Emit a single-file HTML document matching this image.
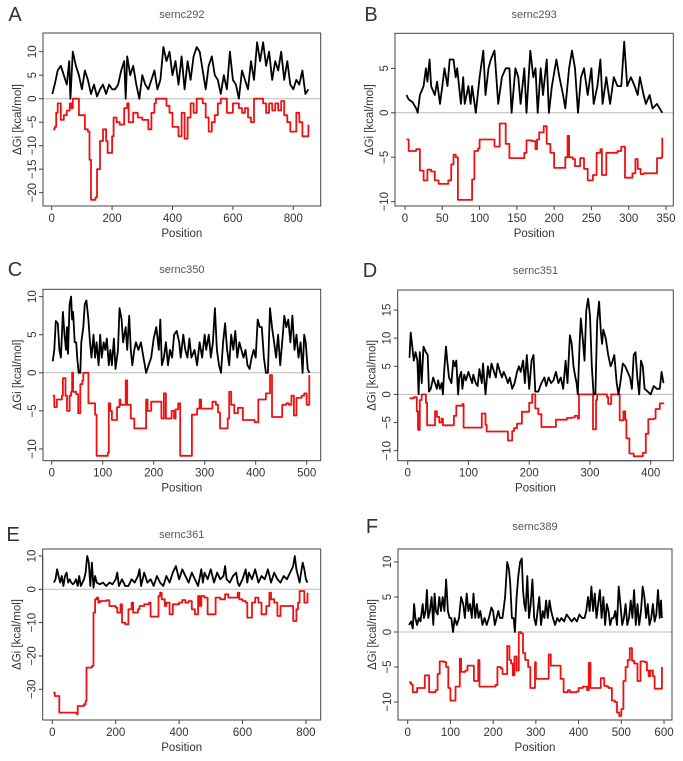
<!DOCTYPE html>
<html><head><meta charset="utf-8"><style>
html,body{margin:0;padding:0;background:#fff;}
svg{display:block;font-family:"Liberation Sans",Arial,sans-serif;}
</style></head><body>
<svg id="fig" width="683" height="761" viewBox="0 0 683 761"></svg>
<script>
// ---- Panel A data ----
const aBlackX=[2,10,20,30,40,50,58,62,70,80,90,100,110,120,130,140,150,160,170,180,190,200,210,220,230,240,245,250,260,270,280,290,300,310,320,330,340,350,360,370,380,390,400,410,420,430,440,450,460,470,480,490,500,510,520,530,540,550,560,570,580,590,600,610,620,630,640,650,660,670,680,690,700,710,720,730,740,750,760,770,780,790,800,810,820,830,840,850];
const aBlackY=[1,3,6,7,5,3,8,0,10,7,5,2,6,4,1,3,0.5,2,3,1,3,2,2,3,6,8,0,9,5,7,3,0,5,3,2,4,6,2,4,11,8,10,5,8,3,9,2,8,4,9,11,10,6,2,7,9,5,4,1,5,2,10,4,3,0,6,4,2,8,4,12,8,12,7,10,4,8,6,10,4,8,3,2,4,3,6,1,2];
const aRedX=[5,10,15,20,25,30,40,50,60,65,70,85,90,110,120,125,130,145,150,160,170,180,185,200,205,215,225,240,250,255,270,285,300,320,330,340,345,380,390,400,420,430,440,450,460,470,480,500,510,520,530,540,550,560,580,600,620,630,640,650,660,670,690,700,710,720,730,740,750,760,770,780,790,800,810,820,830,840,850];
const aRedY=[-6.5,-6,-3,-1,-1,-4.5,-3.5,-2.5,-1,-2,0,0,-3.5,-6.5,-7,-13,-21.5,-21,-15,-9,-6.5,-9,-11.5,-8,-4,-5,-5.5,-2,-1,-5,-3,-4,-4.5,-6.5,-3,-1,0,-1.5,-3,-6,-8,-3,-8.5,-4,-1,-3,0,-1,-4,-7,-5,-3.5,-1,0,-3,-1,-2,-3,-2,-4,-5,0,0,-1,-3,-1,-2.5,-1,-2.5,-0.5,-3.5,-5,-7,-7,-3,-5,-8,-8,-5.5];
// ---- Panel B data ----
const bBlackX=[2,5,10,15,17,20,25,28,30,33,35,40,43,47,50,53,57,60,65,68,70,75,78,80,85,88,90,95,100,105,108,112,115,120,125,130,135,140,143,148,152,155,160,163,168,172,175,178,182,185,190,193,197,203,207,212,215,220,224,228,232,236,240,245,250,253,258,262,265,270,275,280,285,290,294,298,303,308,312,315,320,323,328,332,338,345];
const bBlackY=[2,1.5,1.2,0.5,0,2,3,5,3.5,6,3,2,3.5,1,3,5,3,6,6,4,5,1,4,1,3,1,3,0,4,7,2,5,6,7,1,4,5,5,0,5,4,1,5,0,7,4,5,0,5,2,6,0,3,6,4,2,0.5,5,7,5,0,4,5,2,5,1,3,6,1,4,1,4,3,3,8,3,4,3,2,4,2,1,2,0.5,1,0];
const bRedX=[2,5,15,20,25,30,35,40,45,58,62,65,68,71,90,93,98,100,120,127,135,140,160,163,170,175,177,180,186,190,195,200,215,218,220,225,228,235,240,245,252,257,262,264,270,285,290,295,305,309,312,316,320,338,344,345];
const bRedY=[-3,-4.3,-4.1,-6.5,-7.6,-6.4,-6.6,-7.6,-8,-7.6,-5.8,-4.7,-5,-9.8,-7.5,-4.3,-4,-3,-3.8,-1.2,-3.5,-5.1,-4.5,-3.1,-3.2,-4.1,-3,-2.2,-1.5,-3.5,-4.5,-6.2,-5,-2.6,-5,-5.2,-6,-5.1,-6.3,-7.6,-7,-4.5,-4.1,-7,-4.5,-4.3,-3.8,-7.3,-6.8,-5.2,-6.3,-6.9,-6.8,-5.1,-5,-2.8];
// ---- Panel C data ----
const cBlackX=[2,5,8,12,15,18,22,25,28,30,32,35,38,40,42,45,48,50,53,56,58,62,65,68,72,75,78,82,85,88,92,95,98,102,105,108,112,115,118,122,125,130,133,137,140,145,148,152,155,158,162,165,170,175,180,185,190,195,200,205,210,213,216,220,224,228,232,236,240,245,250,253,258,262,266,270,274,280,285,290,295,300,303,308,312,316,320,324,328,332,336,340,344,348,352,356,360,364,368,372,376,380,384,388,392,396,400,404,408,412,416,420,424,428,432,436,440,444,448,452,456,460,464,468,472,476,480,484,488,492,495,498,502,505];
const cBlackY=[1.5,3,6.8,6.5,3,2,8,5,3,6,2.5,9,10,7,8,4,4,2,0,0,4,6,9,9.5,7,4,2,5,2,4,1,5,2,4,3,4.5,1,3,1,4.5,0.5,3,8.5,7,4,6,3,7.5,3,1,3,4,3,4,2,0,1,2,4.5,6,3,7,1,2,4,1,3,2,5,5.5,4,2,5,3,2,4.5,2,3,1,4,2,5,3,5,2,4,8.5,3,1,0,4,6.5,3,1,5,3,5.5,2,4,3,2,3,1,0.5,2,3,2,7,6,6,2,0,0,8.5,6,4,2,5,1,4,7.5,6,7,4,7.5,3,5,2,4,0,5,4,0.5,0];
const cRedX=[2,5,10,15,20,22,27,30,35,38,40,42,48,52,56,60,62,68,72,80,85,88,110,112,115,118,128,133,135,145,148,155,162,185,188,195,215,220,224,235,240,243,248,252,275,285,290,293,315,322,326,330,345,348,352,358,365,375,390,398,405,415,420,428,432,452,460,465,470,475,480,490,495,500,505];
const cRedY=[-3,-4.5,-3.5,-3.5,-3,-0.7,-3,-5,-3,-2.5,0,-2.5,-2.8,-5.3,-1.5,-1,0,0,-4,-4,-5.5,-10.9,-10.5,-4,-5,-6.2,-4.5,-3.5,-4.2,-1,-4.2,-6,-7.3,-3.5,-5,-3.8,-6,-2.7,-6,-5,-6,-4.8,-4,-10.9,-5.5,-4.7,-3.5,-4.7,-3.8,-4.2,-5.2,-7.3,-6,-2.5,-4.2,-5.3,-4.6,-6.2,-6.2,-6.5,-3.5,-3.5,-2.7,-0.3,-5.8,-4.2,-4,-4.2,-3,-5.6,-3.3,-3,-2.7,-4.2,-0.3];
// ---- Panel D data ----
const dBlackX=[3,5,8,10,13,16,18,20,23,26,30,33,35,38,42,45,48,50,53,56,58,60,63,65,68,72,75,78,80,83,85,88,90,93,96,100,103,106,108,112,115,118,122,124,128,132,135,138,142,145,148,152,155,158,162,165,168,172,176,180,183,186,190,193,196,200,204,207,210,215,220,225,228,232,236,240,244,248,252,256,260,263,267,270,273,276,278,280,283,285,288,291,294,297,300,303,306,309,312,315,318,320,322,326,330,334,336,340,344,347,350,354,358,362,366,369,372,375,378,381,384,387,390,395,400,405,410,415,418,421];
const dBlackY=[6.5,11,8,6,7.5,6,0,7.5,2,8.5,7.5,7,0.5,1,3,2,1,2.5,1,2,0,4,8.5,6,3,2,6,5,6,0,3,4,1,3.5,2.5,4,3,2,3.5,2,1.5,4.5,2,5.5,0,5,3,5.5,4,3,5.5,4,3,4,3,2,3,1,2,4,5,4,6,2,7,1,6,7,0.5,0.5,2,3,1.5,3,2,2.5,4,2,3,1,6,2,10.5,9,5,3,2,0,9,13.5,10,6,15,17,14,5,0,0,13,16.5,11,9,11.5,10,7,5,5.5,7,2,0,2,5.5,5,4,3,1,7,7.5,3,0,6,5,1,0.5,0,1.5,1,1,4,2];
const dRedX=[3,10,15,17,20,23,30,32,43,45,48,52,56,58,72,76,80,90,92,120,122,128,130,163,165,172,175,180,188,198,200,205,210,215,220,240,244,262,270,275,280,282,300,305,310,312,328,330,335,347,349,355,358,360,365,372,387,392,396,405,408,415,421];
const dRedY=[-0.7,-0.5,-3,-6.3,-1,0,-1.5,-5.5,-5.5,-3,-4,-5,-4.3,-5.5,-5.5,-3.8,-2,-1.7,-5.9,-5.9,-3.4,-5.4,-6.6,-6.6,-8.2,-6.5,-6,-5.2,-3.1,-3.1,-1.5,0,-2.5,-3.5,-5.8,-5.8,-4.5,-4.2,-4.1,-3.8,-4.3,0,0,-6.2,-1,0,-0.5,-1.7,0,0,-4.6,-3,-4.5,-7.8,-10.5,-11,-10.4,-7,-4.4,-4.3,-2.6,-1.6,-1.7];
// ---- Panel E data ----
const eBlackX=[5,10,15,20,25,30,35,40,45,50,55,60,65,70,75,80,85,90,100,105,110,115,120,125,130,135,140,150,160,170,180,190,200,205,210,220,230,240,250,260,270,275,280,290,300,310,320,330,340,350,360,370,380,390,400,410,420,430,440,450,460,470,475,480,490,500,510,520,530,540,545,550,560,570,580,585,590,600,610,615,620,630,640,650,660,670,680,690,700,710,720,730,740,750,760,765,770,780,785,790,795,800,805];
const eBlackY=[2,3,6,4,2,4,1,4,5,2,3,2,1.5,2,3,1,4,1,3,5,10,8,1,8,0.5,4,2,1.5,2,1,2,1.5,3,5,1,3,1,1,3,2,4,6,1,5,2,3,1,4,2,1,4,2,5,7,3,6,4,2,5,3,1,6,2,5,3,6,2,5,3,4,7,3,2,4,5,2,1,3,6,2,5,3,6,2,4,3,6,2,5,3,2,4,3,5,7,10,6,2,5,8,6,3,2];
const eRedX=[3,8,18,22,70,78,80,100,105,108,125,130,135,140,145,150,160,170,180,190,200,205,215,220,230,240,250,255,270,275,290,305,310,330,335,340,345,355,360,370,380,400,410,420,430,440,450,460,465,470,480,490,510,515,530,545,555,570,585,590,600,610,615,625,630,640,650,660,675,685,690,700,710,720,730,760,770,775,780,790,795,805];
const eRedY=[-31,-32,-32,-37,-37,-37.5,-35,-34.5,-33.5,-23.5,-23,-7,-3,-2.5,-4,-3.5,-3.5,-3.3,-5,-5,-5.5,-7,-4.5,-10,-10.5,-6,-4,-7,-6,-5,-4.5,-4,-8.2,-8.2,-2,-1,-3,-5,-4,-7.5,-4.5,-4,-3.2,-4,-3.5,-6,-7.5,-2,-5,-2,-2.5,-7.5,-7.5,-2.5,-3,-1.5,-2.5,-2.5,-1,-3,-3.5,-4,-8.5,-8.5,-4,-2.5,-4,-7.5,-5,-1,-3,-4,-8,-5,-5,-9.5,-6,-4,-0.5,-0.5,-4,-1];
// ---- Panel F data ----
const fBlackX=[3,8,12,15,18,22,26,30,35,38,42,45,48,52,56,60,63,66,70,74,78,82,86,90,94,98,102,106,110,115,120,125,130,134,138,142,146,150,154,158,162,166,170,175,180,185,190,196,200,204,208,212,216,222,228,233,237,240,244,248,251,255,259,263,267,270,273,276,280,284,288,292,296,300,304,308,312,316,320,324,328,332,336,340,345,350,355,360,366,372,378,384,390,396,402,408,414,418,422,426,430,434,438,442,446,450,454,458,462,466,470,474,478,482,486,490,494,498,502,506,510,514,518,522,526,530,534,538,542,546,550,554,558,562,566,570,574,578,582,586,590,593,595];
const fBlackY=[1,1.5,0.5,4,2,1,2,1.5,4,2,3,6,2,3,5,1,5.5,3,2.5,5,3,5,3,7.5,3,2,2,0,2,1,2,5,4,2,5.5,3,4,2,5.5,2,4,2,3,1,2,1,2,3.5,3,1,2,3,2,2,5,10,9,7,2,2,0,5,8,10,10.5,6,4,3,8,2,4,7.5,2,1,3,5,1,3,2,4.5,2,4.5,3,2,1,2,1.5,2,1.5,2.5,2,1.5,2,1.5,2.5,2,2,3,5,3,6.5,3,5.5,2,4,6,2,5,1,4,3,1,2,2,3,1,6.5,4,1,2,4,1,2,4.5,2,6,1,4,1,3,6.5,5,2,4,1,2,4,1.5,2.5,6,2,4.5,2];
const fRedX=[3,8,12,22,35,40,45,50,65,70,75,85,90,95,100,110,112,120,122,125,135,140,150,155,162,165,168,195,205,210,218,222,230,233,238,242,246,250,255,260,265,270,275,282,287,295,298,300,325,330,335,350,358,365,375,380,395,400,410,420,424,428,445,452,460,466,470,478,485,490,495,500,505,510,515,520,525,530,538,545,555,560,564,568,574,578,590,595];
const fRedY=[-7.2,-7.5,-8.6,-8,-8,-6.2,-6.2,-8.6,-8.3,-6,-4.2,-4.3,-5,-8,-9.8,-9.8,-7.8,-7.8,-3.8,-5.7,-5.5,-4.8,-4.8,-7,-7,-4,-7.8,-7.8,-7.6,-5,-5.2,-6,-6,-2,-4,-4.5,-6.2,-3.5,-5.5,0,-0.2,-3,-4,-5,-8,-8,-4.3,-6.7,-6.7,-3.2,-4.8,-4.8,-6.7,-8.6,-8.3,-8.6,-8.5,-8,-7.8,-8.3,-4.4,-8,-8,-6.6,-7.7,-7.8,-8,-9.8,-10,-11.5,-12,-11,-7,-5,-4,-2.3,-4.1,-4.5,-7,-4.2,-4.3,-5.5,-6.3,-5.5,-6.3,-8.1,-8.1,-5];
// ---- tick values / titles ----
const aXTicks=[0,200,400,600,800], aYTicks=[-20,-15,-10,-5,0,5,10];
const bXTicks=[0,50,100,150,200,250,300,350], bYTicks=[-10,-5,0,5];
const cXTicks=[0,100,200,300,400,500], cYTicks=[-10,-5,0,5,10];
const dXTicks=[0,100,200,300,400], dYTicks=[-10,-5,0,5,10,15];
const eXTicks=[0,200,400,600,800], eYTicks=[-30,-20,-10,0,10];
const fXTicks=[0,100,200,300,400,500,600], fYTicks=[-10,-5,0,5,10];

const NS='http://www.w3.org/2000/svg';
const svg=document.getElementById('fig');
function mk(tag,attrs,parent){const e=document.createElementNS(NS,tag);for(const k in attrs)e.setAttribute(k,attrs[k]);(parent||svg).appendChild(e);return e;}

const panels=[
 {id:'a',letter:'A',title:'sernc292',box:[43,33,320.7,206],x0:51.7,kx:0.302,y0:98.7,ky:4.7,lx:15,ly:14,bx:aBlackX,by:aBlackY,rx:aRedX,ry:aRedY,xt:aXTicks,yt:aYTicks},
 {id:'b',letter:'B',title:'sernc293',box:[395,33.3,673.3,206],x0:405,kx:0.7457,y0:112.8,ky:8.89,lx:371,ly:14,bx:bBlackX,by:bBlackY,rx:bRedX,ry:bRedY,xt:bXTicks,yt:bYTicks},
 {id:'c',letter:'C',title:'sernc350',box:[43,289.3,320.7,460.7],x0:51.7,kx:0.51,y0:372.8,ky:7.617,lx:15,ly:269,bx:cBlackX,by:cBlackY,rx:cRedX,ry:cRedY,xt:cXTicks,yt:cYTicks},
 {id:'d',letter:'D',title:'sernc351',box:[397.7,290,673.3,460.7],x0:407.7,kx:0.6075,y0:394.4,ky:5.627,lx:370,ly:270,bx:dBlackX,by:dBlackY,rx:dRedX,ry:dRedY,xt:dXTicks,yt:dYTicks},
 {id:'e',letter:'E',title:'sernc361',box:[42.7,549,320.7,720],x0:52.3,kx:0.317,y0:589.3,ky:3.333,lx:13,ly:534,bx:eBlackX,by:eBlackY,rx:eRedX,ry:eRedY,xt:eXTicks,yt:eYTicks},
 {id:'f',letter:'F',title:'sernc389',box:[398,549,672,720],x0:407.7,kx:0.4272,y0:632,ky:7,lx:372,ly:526,bx:fBlackX,by:fBlackY,rx:fRedX,ry:fRedY,xt:fXTicks,yt:fYTicks}
];

panels.forEach(p=>{
  const g=mk('g',{});
  
  
  const X=v=>p.x0+v*p.kx, Y=v=>p.y0-v*p.ky;
  const [x1,y1,x2,y2]=p.box;
  const cx=(x1+x2)/2;
  const L=mk('text',{x:p.lx,y:p.ly+7,'text-anchor':'middle','font-size':20,fill:'#333'},g);L.textContent=p.letter;
  
  
  const T=mk('text',{x:cx,y:p.ly+4,'text-anchor':'middle','font-size':11,fill:'#555'},g);T.textContent=p.title;
  
  
  // zero line
  const z=mk('line',{x1:x1,x2:x2,y1:Y(0),y2:Y(0),stroke:'#bbb','stroke-width':1},g);
  
  
  // red step line
  let d='';
  for(let i=0;i<p.rx.length;i++){
    const px=X(p.rx[i]).toFixed(1), py=Y(p.ry[i]).toFixed(1);
    if(i===0) d+='M'+px+' '+py; else d+=' H'+px+' V'+py;
  }
  const r=mk('path',{d:d,fill:'none',stroke:'#ee1111','stroke-width':1.8,'stroke-linejoin':'round'},g);
  
  
  // black line
  const pts=p.bx.map((v,i)=>X(v).toFixed(1)+','+Y(p.by[i]).toFixed(1)).join(' ');
  const b=mk('polyline',{points:pts,fill:'none',stroke:'#000','stroke-width':1.8,'stroke-linejoin':'round'},g);
  
  
  // box
  const bx=mk('rect',{x:x1,y:y1,width:x2-x1,height:y2-y1,fill:'none',stroke:'#444','stroke-width':1},g);
  
  
  // x axis
  const xa=mk('g',{},g);
  
  
  mk('line',{x1:X(p.xt[0]),x2:X(p.xt[p.xt.length-1]),y1:y2,y2:y2,stroke:'#444'},xa);
  p.xt.forEach(v=>{
    mk('line',{x1:X(v),x2:X(v),y1:y2,y2:y2+4,stroke:'#444'},xa);
    const t=mk('text',{x:X(v),y:y2+16,'text-anchor':'middle','font-size':11.5,fill:'#333'},xa);t.textContent=v;
    
    
  });
  const xt=mk('text',{x:cx,y:y2+31,'text-anchor':'middle','font-size':11.5,fill:'#333'},g);xt.textContent='Position';
  
  
  // y axis
  const ya=mk('g',{},g);
  
  
  mk('line',{x1:x1,x2:x1,y1:Y(p.yt[0]),y2:Y(p.yt[p.yt.length-1]),stroke:'#444'},ya);
  p.yt.forEach(v=>{
    const yy=Y(v);
    mk('line',{x1:x1-4,x2:x1,y1:yy,y2:yy,stroke:'#444'},ya);
    const t=mk('text',{x:x1-7,y:yy,'text-anchor':'middle','font-size':11.5,fill:'#333',transform:'rotate(-90 '+(x1-7)+' '+yy+')'},ya);
    t.textContent=(v<0?'\u2212'+(-v):v);
    
    
  });
  const ymid=(y1+y2)/2, yx=x1-26;
  const yt=mk('text',{x:yx,y:ymid+4,'text-anchor':'middle','font-size':11.5,fill:'#333',transform:'rotate(-90 '+yx+' '+ymid+')'},g);
  yt.textContent='\u0394Gi [kcal/mol]';
  
  
});
</script>
</body></html>
